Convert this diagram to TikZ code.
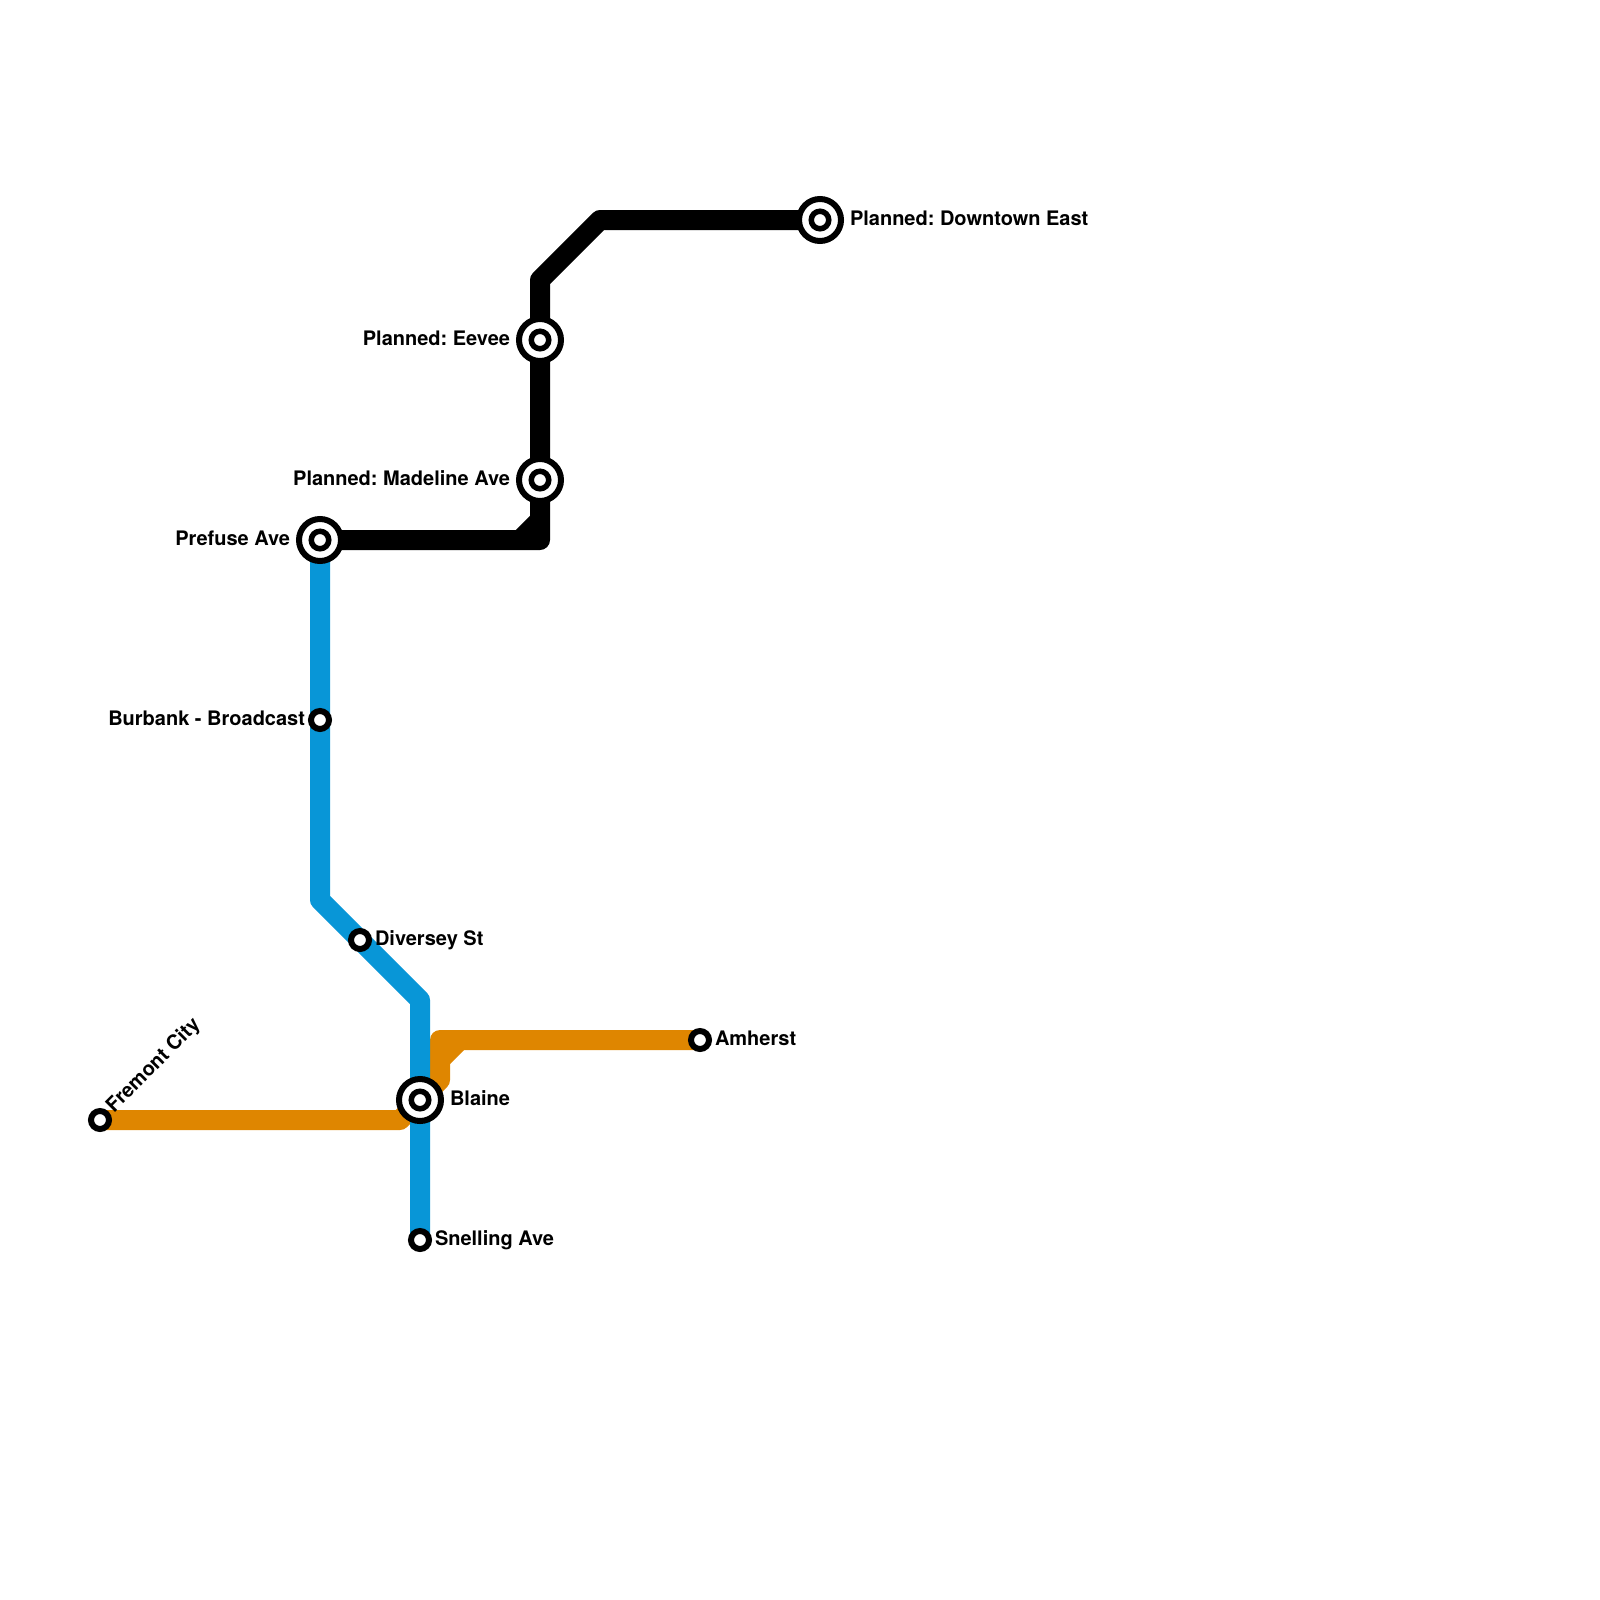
\documentclass[tikz,border=0pt]{standalone}
\usepackage{fontspec}
\setmainfont{TeX Gyre Heros}
\definecolor{blueline}{HTML}{0896D7}
\definecolor{orangeline}{HTML}{DF8600}
\tikzset{
  x=1pt,y=-1pt,
  route/.style={line width=20pt,line join=round,line cap=round},
  routebutt/.style={line width=20pt,line join=round,line cap=butt},
  stop/.style={circle,draw=black,line width=6pt,fill=white,minimum size=18pt,inner sep=0pt,outer sep=0pt},
  hubouter/.style={circle,draw=black,line width=6pt,fill=white,minimum size=42pt,inner sep=0pt,outer sep=0pt},
  hubinner/.style={circle,draw=black,line width=5.5pt,fill=white,minimum size=17.5pt,inner sep=0pt,outer sep=0pt},
  lab/.style={inner sep=0pt,outer sep=0pt,font=\bfseries\fontsize{20}{23}\selectfont\frenchspacing,text=black},
}
\begin{document}
\begin{tikzpicture}
\useasboundingbox (0,0) rectangle (1600,1600);
% station and bend positions
\coordinate (fremont) at (100,1120);
\coordinate (oa) at (400,1120);
\coordinate (blaine) at (420,1100);
\coordinate (ob) at (440,1080);
\coordinate (oc) at (440,1040);
\coordinate (od) at (440,1060);
\coordinate (oe) at (460,1040);
\coordinate (amherst) at (700,1040);
\coordinate (prefuse) at (320,540);
\coordinate (burbank) at (320,720);
\coordinate (ba) at (320,900);
\coordinate (diversey) at (360,940);
\coordinate (bb) at (420,1000);
\coordinate (snelling) at (420,1240);
\coordinate (ka) at (540,540);
\coordinate (kb) at (520,540);
\coordinate (kc) at (540,520);
\coordinate (madeline) at (540,480);
\coordinate (eevee) at (540,340);
\coordinate (kd) at (540,280);
\coordinate (ke) at (600,220);
\coordinate (downtown) at (820,220);
% orange line
\draw[route,orangeline] (fremont) -- (oa) -- (blaine);
\draw[route,orangeline] (blaine) -- (ob) -- (oc) -- (amherst);
\draw[routebutt,orangeline] (od) -- (oe);
% blue line
\draw[routebutt,blueline] (prefuse) -- (burbank) -- (ba) -- (diversey) -- (bb) -- (blaine) -- (snelling);
% black line
\draw[route,black] (prefuse) -- (ka) -- (madeline) -- (eevee) -- (kd) -- (ke) -- (downtown);
\draw[routebutt,black] (kb) -- (kc);
% stations
\node[hubouter] (s1) at (prefuse) {};
\node[hubinner] (s1i) at (prefuse) {};
\node[hubouter] (s2) at (madeline) {};
\node[hubinner] (s2i) at (madeline) {};
\node[hubouter] (s3) at (eevee) {};
\node[hubinner] (s3i) at (eevee) {};
\node[hubouter] (s4) at (downtown) {};
\node[hubinner] (s4i) at (downtown) {};
\node[hubouter] (s5) at (blaine) {};
\node[hubinner] (s5i) at (blaine) {};
\node[stop] (s6) at (burbank) {};
\node[stop] (s7) at (diversey) {};
\node[stop] (s8) at (snelling) {};
\node[stop] (s9) at (amherst) {};
\node[stop] (s10) at (fremont) {};
% labels
\node[lab,anchor=base west] (l1) at (850,225) {Planned: Downtown East};
\node[lab,anchor=base east] (l2) at (510,345) {Planned: Eevee};
\node[lab,anchor=base east] (l3) at (510,485) {Planned: Madeline Ave};
\node[lab,anchor=base east] (l4) at (290,545) {Prefuse Ave};
\node[lab,anchor=base east] (l5) at (305,725) {Burbank - Broadcast};
\node[lab,anchor=base west] (l6) at (375,945) {Diversey St};
\node[lab,anchor=base west] (l7) at (715,1045) {Amherst};
\node[lab,anchor=base west] (l8) at (450,1105) {Blaine};
\node[lab,anchor=base west] (l9) at (435,1245) {Snelling Ave};
\node[lab,anchor=base west,rotate=45] (l10) at (114,1113) {Fremont City};
\end{tikzpicture}
\end{document}
